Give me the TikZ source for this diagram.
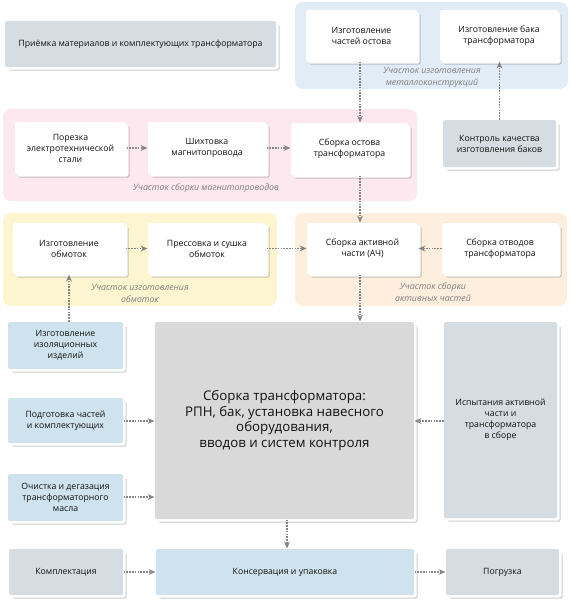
\documentclass[tikz,border=0pt]{standalone}
\usepackage{fontspec}
\setmainfont{Open Sans}
\usetikzlibrary{arrows.meta,shadows}
\definecolor{txt}{HTML}{111111}
\definecolor{grayfill}{HTML}{D5DDE2}
\definecolor{bigfill}{HTML}{D9D9D9}
\definecolor{bluefill}{HTML}{CFE3EF}
\definecolor{regblue}{HTML}{E2ECF7}
\definecolor{regpink}{HTML}{FCE8EE}
\definecolor{regyellow}{HTML}{FDF5CF}
\definecolor{regorange}{HTML}{FDEEDD}
\definecolor{arr}{HTML}{858585}
\definecolor{lbl}{HTML}{7E7E7E}
\tikzset{
  region/.style={draw=none, rounded corners=8pt},
  box/.style={draw=none, rounded corners=1.5pt, inner sep=2pt, outer sep=0pt,
    align=center, text=txt, font=\fontsize{8.7}{11}\selectfont,
    drop shadow={shadow xshift=3.5pt, shadow yshift=-3.5pt, fill=black, opacity=.2, rounded corners=4pt},
    copy shadow={shadow xshift=2.5pt, shadow yshift=-2.5pt, fill=white, draw=none, rounded corners=4pt}},
  wbox/.style={box, fill=white},
  gbox/.style={box, fill=grayfill},
  bbox/.style={box, fill=bluefill},
  reglabel/.style={font=\itshape\fontsize{8.8}{12}\selectfont, text=lbl, align=center, inner sep=0pt},
  flow/.style={draw=arr, line width=1.8pt, dash pattern=on 1.6pt off 1.2pt,
    -{Stealth[length=7pt,width=6pt,fill=arr,line width=0pt]}, shorten >=0.5pt, shorten <=0.5pt},
}
\begin{document}
\begin{tikzpicture}[x=1pt,y=-1pt]
\useasboundingbox (0,0) rectangle (570,606);
% regions
\fill[regblue, rounded corners=8pt] (295,2) rectangle (568,89);
\fill[regpink, rounded corners=8pt] (3,109) rectangle (417,201);
\fill[regyellow, rounded corners=8pt] (3,213) rectangle (277,306);
\fill[regorange, rounded corners=8pt] (295,213) rectangle (567,306);
% region labels
\node[reglabel] (lmetal) at (432,77) {Участок изготовления\\металлоконструкций};
\node[reglabel] (lmag) at (206,188) {Участок сборки магнитопроводов};
\node[reglabel] (lobm) at (140,293) {Участок изготовления\\обмоток};
\node[reglabel] (lakt) at (433,292) {Участок сборки\\активных частей};
% boxes
\node[gbox, minimum width=271, minimum height=46] (priemka) at (140.5,44) {Приёмка материалов и комплектующих трансформатора};
\node[wbox, minimum width=111, minimum height=51] (chasti) at (361.5,35.5) {Изготовление\\частей остова};
\node[wbox, minimum width=118, minimum height=51] (bak) at (499,35.5) {Изготовление бака\\трансформатора};
\node[wbox, minimum width=111, minimum height=52] (porezka) at (70.5,148) {Порезка\\электротехнической\\стали};
\node[wbox, minimum width=118, minimum height=52] (shikht) at (207,148) {Шихтовка\\магнитопровода};
\node[wbox, minimum width=117, minimum height=52] (ostov) at (349.5,149) {Сборка остова\\трансформатора};
\node[gbox, minimum width=113, minimum height=47] (kontrol) at (499.5,143.5) {Контроль качества\\изготовления баков};
\node[wbox, minimum width=112, minimum height=51] (obmotki) at (69,248.5) {Изготовление\\обмоток};
\node[wbox, minimum width=118, minimum height=51] (press) at (207,248.5) {Прессовка и сушка\\обмоток};
\node[wbox, minimum width=111, minimum height=51] (aktiv) at (362.5,248.5) {Сборка активной\\части (АЧ)};
\node[wbox, minimum width=116, minimum height=51] (otvody) at (500,248.5) {Сборка отводов\\трансформатора};
\node[bbox, minimum width=115, minimum height=47] (izol) at (65.5,345.5) {Изготовление\\изоляционных\\изделий};
\node[bbox, minimum width=115, minimum height=45] (podgot) at (65.5,420.5) {Подготовка частей\\и комплектующих};
\node[bbox, minimum width=115, minimum height=47] (ochist) at (65.5,497.5) {Очистка и дегазация\\трансформаторного\\масла};
\node[box, fill=bigfill, minimum width=259, minimum height=197, font=\fontsize{13.3}{15.5}\selectfont] (big) at (284.5,420.5) {Сборка трансформатора:\\РПН, бак, установка навесного\\оборудования,\\вводов и систем контроля};
\node[gbox, minimum width=113, minimum height=196] (ispyt) at (500.5,420) {Испытания активной\\части и\\трансформатора\\в сборе};
\node[gbox, minimum width=114, minimum height=46] (komplekt) at (66,572) {Комплектация};
\node[bbox, minimum width=258, minimum height=46] (konserv) at (285,572) {Консервация и упаковка};
\node[gbox, minimum width=113, minimum height=46] (pogruzka) at (502.5,572) {Погрузка};
% connectors
\coordinate (c1) at (360,0);
\coordinate (c2) at (287,0);
\coordinate (c3) at (0,421);
\coordinate (c4) at (0,497);
\draw[flow] (chasti.south -| c1) -- (ostov.north -| c1);
\draw[flow] (kontrol.north) -- (kontrol.north |- bak.south);
\draw[flow] (porezka) -- (shikht);
\draw[flow] (shikht) -- (shikht -| ostov.west);
\draw[flow] (ostov.south -| c1) -- (aktiv.north -| c1);
\draw[flow] (obmotki) -- (press);
\draw[flow] (press) -- (aktiv);
\draw[flow] (otvody) -- (aktiv);
\draw[flow] (aktiv.south -| c1) -- (big.north -| c1);
\draw[flow] (izol.north -| obmotki.south) -- (obmotki.south);
\draw[flow] (podgot.east |- c3) -- (big.west |- c3);
\draw[flow] (ochist.east |- c4) -- (big.west |- c4);
\draw[flow] (ispyt.west |- c3) -- (big.east |- c3);
\draw[flow] (big.south -| c2) -- (konserv.north -| c2);
\draw[flow] (komplekt) -- (konserv);
\draw[flow] (konserv) -- (pogruzka);
\end{tikzpicture}
\end{document}
